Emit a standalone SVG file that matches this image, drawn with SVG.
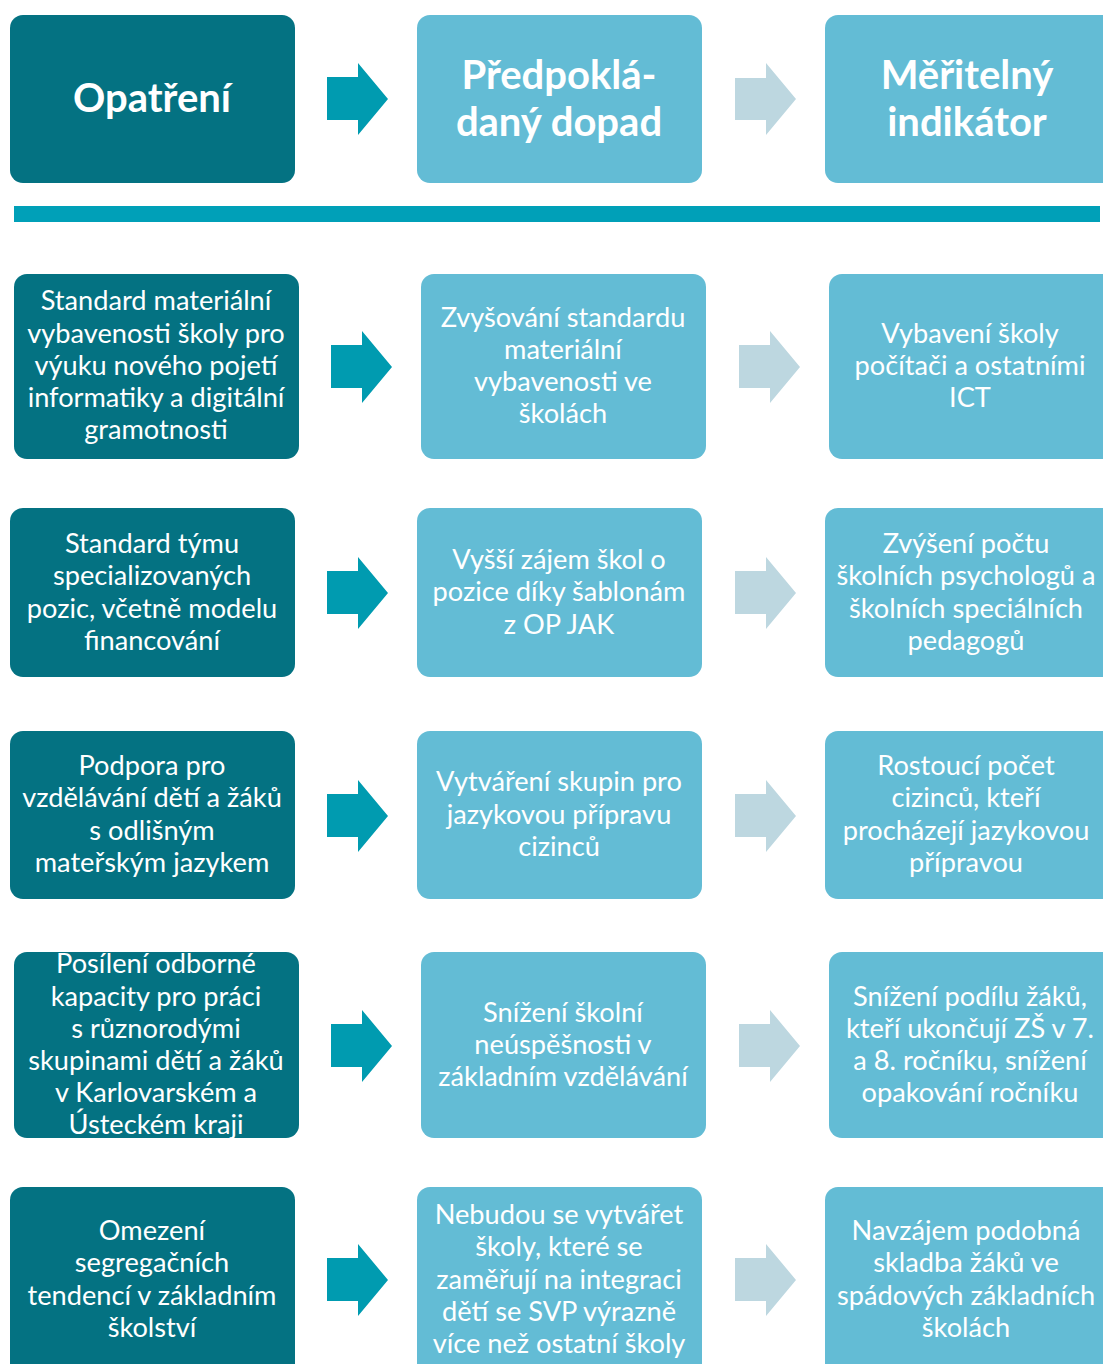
<svg xmlns="http://www.w3.org/2000/svg" width="1103" height="1364" viewBox="0 0 1103 1364">
<style>
.dk{fill:#047282}
.lt{fill:#63BCD5}
.ad{fill:#009BB0}
.al{fill:#BDD7E0}
text{font-family:Lato,"Liberation Sans",sans-serif;fill:#ffffff;text-anchor:middle}
.b{font-size:27.2px}
.h{font-size:40px;font-weight:bold}
</style>
<rect width="1103" height="1364" fill="#ffffff"/>
<g id="header">
<g id="h1"><rect class="dk" x="10" y="15" width="285" height="168" rx="13"/><text class="h" x="152" y="112">Opatření</text></g>
<g id="h2"><rect class="lt" x="417" y="15" width="285" height="168" rx="13"/><text class="h" x="559" y="89">Předpoklá-</text><text class="h" x="559" y="136">daný dopad</text></g>
<g id="h3"><rect class="lt" x="825" y="15" width="300" height="168" rx="13"/><text class="h" x="967" y="89">Měřitelný</text><text class="h" x="967" y="136">indikátor</text></g>
</g>
<rect id="divider" x="14" y="206" width="1086" height="16" fill="#00A0B8"/>
<g id="r1a"><rect class="dk" x="14" y="274" width="285" height="185" rx="13"/>
<text class="b" x="156" y="310">Standard materiální</text><text class="b" x="156" y="343">vybavenosti školy pro</text><text class="b" x="156" y="375">výuku nového pojetí</text><text class="b" x="156" y="407">informatiky a digitální</text><text class="b" x="156" y="439">gramotnosti</text></g>
<g id="r1b"><rect class="lt" x="421" y="274" width="285" height="185" rx="13"/>
<text class="b" x="563" y="327">Zvyšování standardu</text><text class="b" x="563" y="359">materiální</text><text class="b" x="563" y="391">vybavenosti ve</text><text class="b" x="563" y="423">školách</text></g>
<g id="r1c"><rect class="lt" x="829" y="274" width="300" height="185" rx="13"/>
<text class="b" x="970" y="343">Vybavení školy</text><text class="b" x="970" y="375">počítači a ostatními</text><text class="b" x="970" y="407">ICT</text></g>
<g id="r2a"><rect class="dk" x="10" y="508" width="285" height="169" rx="13"/>
<text class="b" x="152" y="553">Standard týmu</text><text class="b" x="152" y="585">specializovaných</text><text class="b" x="152" y="618">pozic, včetně modelu</text><text class="b" x="152" y="650">financování</text></g>
<g id="r2b"><rect class="lt" x="417" y="508" width="285" height="169" rx="13"/>
<text class="b" x="559" y="569">Vyšší zájem škol o</text><text class="b" x="559" y="601">pozice díky šablonám</text><text class="b" x="559" y="634">z OP JAK</text></g>
<g id="r2c"><rect class="lt" x="825" y="508" width="300" height="169" rx="13"/>
<text class="b" x="966" y="553">Zvýšení počtu</text><text class="b" x="966" y="585">školních psychologů a</text><text class="b" x="966" y="618">školních speciálních</text><text class="b" x="966" y="650">pedagogů</text></g>
<g id="r3a"><rect class="dk" x="10" y="731" width="285" height="168" rx="13"/>
<text class="b" x="152" y="775">Podpora pro</text><text class="b" x="152" y="807">vzdělávání dětí a žáků</text><text class="b" x="152" y="840">s odlišným</text><text class="b" x="152" y="872">mateřským jazykem</text></g>
<g id="r3b"><rect class="lt" x="417" y="731" width="285" height="168" rx="13"/>
<text class="b" x="559" y="791">Vytváření skupin pro</text><text class="b" x="559" y="824">jazykovou přípravu</text><text class="b" x="559" y="856">cizinců</text></g>
<g id="r3c"><rect class="lt" x="825" y="731" width="300" height="168" rx="13"/>
<text class="b" x="966" y="775">Rostoucí počet</text><text class="b" x="966" y="807">cizinců, kteří</text><text class="b" x="966" y="840">procházejí jazykovou</text><text class="b" x="966" y="872">přípravou</text></g>
<g id="r4a"><rect class="dk" x="14" y="952" width="285" height="186" rx="13"/>
<text class="b" x="156" y="973">Posílení odborné</text><text class="b" x="156" y="1006">kapacity pro práci</text><text class="b" x="156" y="1038">s různorodými</text><text class="b" x="156" y="1070">skupinami dětí a žáků</text><text class="b" x="156" y="1102">v Karlovarském a</text><text class="b" x="156" y="1134">Ústeckém kraji</text></g>
<g id="r4b"><rect class="lt" x="421" y="952" width="285" height="186" rx="13"/>
<text class="b" x="563" y="1022">Snížení školní</text><text class="b" x="563" y="1054">neúspěšnosti v</text><text class="b" x="563" y="1086">základním vzdělávání</text></g>
<g id="r4c"><rect class="lt" x="829" y="952" width="300" height="186" rx="13"/>
<text class="b" x="970" y="1006">Snížení podílu žáků,</text><text class="b" x="970" y="1038">kteří ukončují ZŠ v 7.</text><text class="b" x="970" y="1070">a 8. ročníku, snížení</text><text class="b" x="970" y="1102">opakování ročníku</text></g>
<g id="r5a"><rect class="dk" x="10" y="1187" width="285" height="200" rx="13"/>
<text class="b" x="152" y="1240">Omezení</text><text class="b" x="152" y="1272">segregačních</text><text class="b" x="152" y="1305">tendencí v základním</text><text class="b" x="152" y="1337">školství</text></g>
<g id="r5b"><rect class="lt" x="417" y="1187" width="285" height="200" rx="13"/>
<text class="b" x="559" y="1224">Nebudou se vytvářet</text><text class="b" x="559" y="1256">školy, které se</text><text class="b" x="559" y="1289">zaměřují na integraci</text><text class="b" x="559" y="1321">dětí se SVP výrazně</text><text class="b" x="559" y="1353">více než ostatní školy</text></g>
<g id="r5c"><rect class="lt" x="825" y="1187" width="300" height="200" rx="13"/>
<text class="b" x="966" y="1240">Navzájem podobná</text><text class="b" x="966" y="1272">skladba žáků ve</text><text class="b" x="966" y="1305">spádových základních</text><text class="b" x="966" y="1337">školách</text></g>
<g id="connectors">
<polygon class="ad" points="327,77 358,77 358,63 388,99 358,135 358,120 327,120"/>
<polygon class="al" points="735,78 766,78 766,63 796,99 766,135 766,120 735,120"/>
<polygon class="ad" points="331,345 362,345 362,331 392,367 362,403 362,388 331,388"/>
<polygon class="al" points="739,345 770,345 770,331 800,367 770,403 770,388 739,388"/>
<polygon class="ad" points="327,571 358,571 358,557 388,593 358,629 358,614 327,614"/>
<polygon class="al" points="735,571 766,571 766,557 796,593 766,629 766,614 735,614"/>
<polygon class="ad" points="327,794 358,794 358,780 388,816 358,852 358,837 327,837"/>
<polygon class="al" points="735,794 766,794 766,780 796,816 766,852 766,837 735,837"/>
<polygon class="ad" points="331,1024 362,1024 362,1010 392,1046 362,1082 362,1067 331,1067"/>
<polygon class="al" points="739,1024 770,1024 770,1010 800,1046 770,1082 770,1067 739,1067"/>
<polygon class="ad" points="327,1258 358,1258 358,1244 388,1280 358,1316 358,1301 327,1301"/>
<polygon class="al" points="735,1258 766,1258 766,1244 796,1280 766,1316 766,1301 735,1301"/>
</g>
</svg>
